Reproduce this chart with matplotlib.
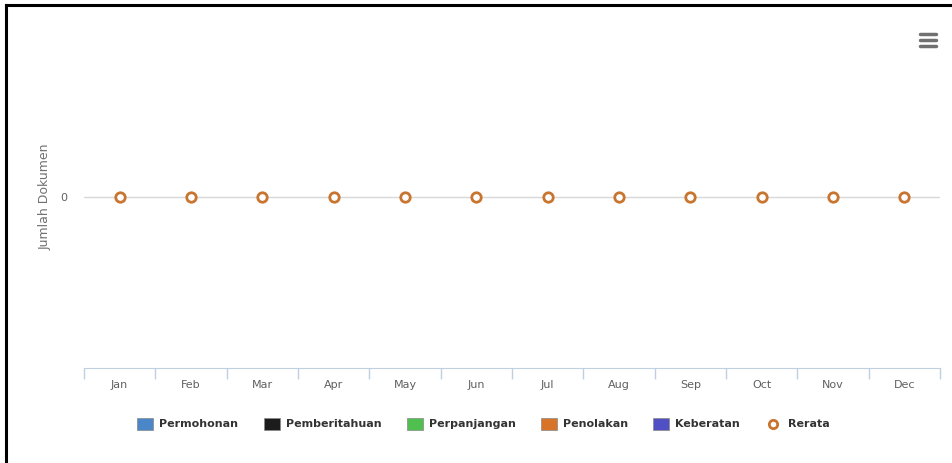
import numpy as np
import matplotlib.pyplot as plt
from matplotlib.patches import Rectangle
from matplotlib.lines import Line2D

months = ['Jan', 'Feb', 'Mar', 'Apr', 'May', 'Jun',
          'Jul', 'Aug', 'Sep', 'Oct', 'Nov', 'Dec']
rerata = [0, 0, 0, 0, 0, 0, 0, 0, 0, 0, 0, 0]
series = ['Permohonan', 'Pemberitahuan', 'Perpanjangan', 'Penolakan', 'Keberatan']
colors = ['#4a86c8', '#1c1c1c', '#4fbf4f', '#d7742a', '#5050c4']
rerata_color = '#c87530'

W, H = 953, 463
fig = plt.figure(figsize=(W / 100, H / 100), dpi=100)

# black frame (top and left only visible)
fig.add_artist(Line2D([6 / W, 6 / W], [0, 1 - 5 / H], transform=fig.transFigure,
                      color='black', lw=2.2))
fig.add_artist(Line2D([6 / W, 1], [1 - 5 / H, 1 - 5 / H], transform=fig.transFigure,
                      color='black', lw=2.2))

ax = fig.add_axes([84 / W, (H - 368) / H, 856 / W, (368 - 26) / H])
x = np.arange(len(months))
ax.axhline(0, color='#d8d8d8', lw=1, zorder=1)
ax.plot(x, rerata, 'o', ms=6.8, mfc='white', mec=rerata_color, mew=2, zorder=3)

ax.set_xlim(-0.5, 11.5)
ax.set_ylim(-1, 1)
for s in ['top', 'right', 'left']:
    ax.spines[s].set_visible(False)
ax.spines['bottom'].set_color('#c0d0e0')
ax.set_xticks(x)
ax.set_xticklabels(months, fontsize=8, color='#606060')
ax.tick_params(axis='x', which='major', length=0, pad=8.5)
ax.set_xticks(np.arange(-0.5, 12, 1), minor=True)
ax.tick_params(axis='x', which='minor', length=8, color='#c0d0e0', width=1)
ax.set_yticks([0])
ax.set_yticklabels(['0'], fontsize=8, color='#606060')
ax.tick_params(axis='y', length=0, pad=12)
ax.set_ylabel('Jumlah Dokumen', fontsize=9, color='#707070', labelpad=6)

# legend
ly = (H - 424) / H
box_x = [137, 264, 407, 541, 653]
for name, c, bx in zip(series, colors, box_x):
    fig.add_artist(Rectangle((bx / W, (H - 430) / H), 16 / W, 12 / H,
                             transform=fig.transFigure, facecolor=c,
                             edgecolor='#888888', lw=0.5))
    fig.text((bx + 22) / W, ly, name, fontsize=8, fontweight='bold',
             color='#333333', va='center', ha='left')
fig.add_artist(Line2D([773 / W], [ly], transform=fig.transFigure, marker='o',
                      ms=6, mfc='white', mec=rerata_color, mew=2, ls='none'))
fig.text(788 / W, ly, 'Rerata', fontsize=8, fontweight='bold',
         color='#333333', va='center', ha='left')

# menu icon
for yy in [34, 40, 46]:
    fig.add_artist(Line2D([920 / W, 936 / W], [(H - yy) / H] * 2,
                          transform=fig.transFigure, color='#707070', lw=2.5,
                          solid_capstyle='round'))

fig.savefig('out.png', dpi=100)
